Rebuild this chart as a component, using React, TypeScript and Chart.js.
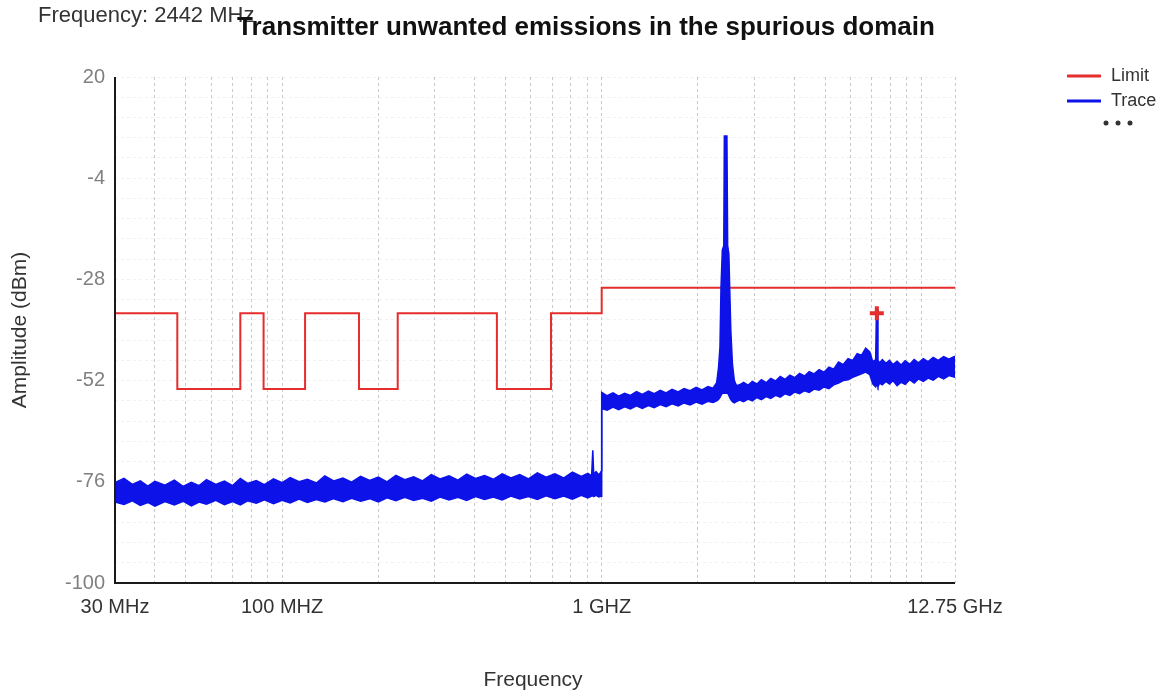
import React, { useEffect, useRef } from "react";
import { Chart, registerables } from "chart.js";

Chart.register(...registerables);

// ---- Limit mask (MHz, dBm) ----
const limitStarts = [30, 47, 74, 87.5, 118, 174, 230, 470, 694, 1000];
const limitEnds = [47, 74, 87.5, 118, 174, 230, 470, 694, 1000, 12750];
const limitLevels = [-36, -54, -36, -54, -36, -54, -36, -54, -36, -30];

// ---- Trace envelope (max / min of the noisy sweep), 30 MHz - 1 GHz ----
const freqsLow = [30, 32, 34, 36, 38, 40, 43, 46, 49, 52, 55, 58, 62, 66, 70, 74, 78, 83, 88, 94, 100, 106, 113, 120, 128, 136, 145, 155, 165, 176, 188, 200, 213, 227, 242, 258, 275, 293, 312, 333, 355, 378, 403, 430, 458, 488, 520, 554, 590, 629, 670, 714, 760, 810, 863, 905, 930, 938, 944, 960, 980, 999];
const upperLow = [-76.2, -75.2, -76.6, -75.8, -77.0, -75.9, -76.8, -75.6, -77.1, -76.1, -76.9, -75.5, -76.6, -75.8, -76.9, -75.2, -76.4, -75.7, -76.7, -75.3, -76.2, -75.0, -76.0, -75.4, -76.3, -74.6, -75.8, -75.1, -76.1, -74.7, -75.7, -74.9, -76.0, -74.5, -75.5, -74.8, -75.8, -74.3, -75.3, -74.6, -75.6, -74.2, -75.2, -74.5, -75.4, -74.1, -75.1, -74.3, -75.3, -73.9, -74.9, -74.1, -75.1, -73.7, -74.7, -74.0, -74.6, -68.5, -74.2, -73.6, -74.4, -73.4];
const lowerLow = [-80.8, -81.4, -80.5, -81.6, -80.9, -81.8, -80.7, -81.5, -80.6, -81.7, -80.8, -81.3, -80.4, -81.4, -80.7, -81.5, -80.5, -81.1, -80.3, -81.2, -80.4, -81.0, -80.1, -80.9, -80.2, -80.8, -80.0, -80.7, -79.9, -80.6, -80.0, -80.8, -79.8, -80.5, -79.7, -80.4, -79.9, -80.6, -79.6, -80.3, -79.7, -80.4, -79.5, -80.2, -79.6, -80.3, -79.4, -80.1, -79.5, -80.2, -79.3, -80.0, -79.4, -80.1, -79.2, -79.8, -79.4, -79.3, -79.5, -79.2, -79.6, -79.4];

// ---- 1 GHz - 2.64 GHz (carrier at 2442 MHz) ----
const freqsMid = [1000, 1040, 1085, 1130, 1180, 1230, 1285, 1340, 1400, 1460, 1525, 1590, 1660, 1735, 1810, 1890, 1975, 2060, 2150, 2230, 2290, 2320, 2345, 2362, 2385, 2410, 2420, 2465, 2478, 2500, 2515, 2535, 2565, 2600, 2640];
const upperMid = [-54.8, -55.6, -54.9, -55.7, -55.0, -55.5, -54.6, -55.3, -54.5, -55.1, -54.3, -54.9, -54.1, -54.7, -53.9, -54.4, -53.6, -54.2, -53.4, -53.8, -52.5, -49, -44, -30, -21, -20, 6, 6, -20, -22, -30, -40, -48, -52, -53.2];
const lowerMid = [-58.6, -59.0, -58.3, -58.9, -58.2, -58.7, -58.0, -58.6, -57.9, -58.4, -57.7, -58.2, -57.5, -58.0, -57.3, -57.8, -57.1, -57.6, -56.9, -57.2, -56.8, -56.5, -56.0, -55.5, -55.0, -55.0, -55.0, -55.0, -55.0, -55.5, -56.0, -56.5, -57.0, -57.3, -57.0];

// ---- 2.7 GHz - 12.75 GHz ----
const freqsHigh = [2700, 2780, 2870, 2960, 3060, 3160, 3270, 3380, 3500, 3620, 3750, 3880, 4020, 4160, 4310, 4460, 4620, 4790, 4960, 5140, 5320, 5510, 5700, 5900, 6100, 6300, 6500, 6700, 6900, 7050, 7200, 7240, 7280, 7320, 7400, 7550, 7750, 7950, 8150, 8400, 8650, 8900, 9200, 9500, 9800, 10150, 10500, 10900, 11300, 11750, 12200, 12750];
const upperHigh = [-53.0, -52.4, -53.1, -52.2, -52.8, -51.8, -52.5, -51.5, -52.1, -51.0, -51.7, -50.7, -51.3, -50.3, -50.9, -49.9, -50.4, -49.4, -50.0, -48.8, -49.3, -47.6, -48.2, -46.8, -47.2, -45.6, -46.0, -44.3, -45.2, -47.5, -47.0, -35.0, -35.0, -47.2, -47.8, -47.0, -47.9, -47.2, -48.2, -47.4, -48.3, -47.3, -48.1, -47.0, -47.8, -46.8, -47.5, -46.5, -47.2, -46.3, -46.9, -46.2];
const lowerHigh = [-56.6, -57.0, -56.4, -56.8, -56.0, -56.5, -55.8, -56.2, -55.5, -55.9, -55.1, -55.5, -54.7, -55.1, -54.4, -54.8, -54.0, -54.3, -53.5, -53.9, -53.0, -52.6, -52.0, -51.8, -51.2, -50.8, -50.4, -50.0, -50.6, -52.8, -53.5, -53.0, -53.0, -53.5, -52.6, -53.0, -52.2, -52.8, -52.0, -53.2, -52.4, -52.9, -51.8, -52.6, -51.6, -52.2, -51.4, -51.9, -51.0, -51.6, -50.8, -51.2];

const traceFreqs = [...freqsLow, ...freqsMid, ...freqsHigh];
const traceUpper = [...upperLow, ...upperMid, ...upperHigh];
const traceLower = [...lowerLow, ...lowerMid, ...lowerHigh];

// ---- Marker ----
const markerFreqs = [7260];
const markerLevels = [-36];

// ---- Axes ----
const xGridFreqs = [30, 40, 50, 60, 70, 80, 90, 100, 200, 300, 400, 500, 600, 700, 800, 900, 1000, 2000, 3000, 4000, 5000, 6000, 7000, 8000, 9000, 10000, 12750];
const xLabelFreqs = [30, 100, 1000, 12750];
const xLabelTexts = ["30 MHz", "100 MHZ", "1 GHZ", "12.75 GHz"];
const yLabelValues = [20, -4, -28, -52, -76, -100];
const yMin = -100;
const yMax = 20;
const yGridStep = 4.8;

const titleText = "Transmitter unwanted emissions in the spurious domain";
const markerInfoText = "Frequency: 2442 MHz";
const xTitle = "Frequency";
const yTitle = "Amplitude (dBm)";
const legendLabels = ["Limit", "Trace"];

const RED = "rgb(230,45,45)";
const BLUE = "rgb(12,18,232)";
const FONT = "'Liberation Sans', Arial, sans-serif";

export default function App() {
  const ref = useRef<HTMLCanvasElement | null>(null);

  useEffect(() => {
    const canvas = ref.current;
    if (!canvas) return;

    const limitPts: { x: number; y: number }[] = [];
    limitStarts.forEach((s, i) => {
      limitPts.push({ x: s, y: limitLevels[i] });
      limitPts.push({ x: limitEnds[i], y: limitLevels[i] });
    });
    const lowerPts = traceFreqs.map((f, i) => ({ x: f, y: traceLower[i] }));
    const upperPts = traceFreqs.map((f, i) => ({ x: f, y: traceUpper[i] }));
    const markerPts = markerFreqs.map((f, i) => ({ x: f, y: markerLevels[i] }));

    const overlay = {
      id: "overlay",
      afterDraw(chart: any) {
        const ctx = chart.ctx as CanvasRenderingContext2D;
        const { left, right, top, bottom } = chart.chartArea;
        ctx.save();
        // axis lines
        ctx.strokeStyle = "#1a1a1a";
        ctx.lineWidth = 2;
        ctx.setLineDash([]);
        ctx.beginPath();
        ctx.moveTo(left, top);
        ctx.lineTo(left, bottom);
        ctx.lineTo(right, bottom);
        ctx.stroke();

        // marker info text
        ctx.fillStyle = "#333";
        ctx.textBaseline = "middle";
        ctx.textAlign = "left";
        ctx.font = `22px ${FONT}`;
        ctx.fillText(markerInfoText, 38, 16);

        // title
        ctx.fillStyle = "#111";
        ctx.textAlign = "center";
        ctx.font = `bold 26px ${FONT}`;
        ctx.fillText(titleText, 586, 28);

        // axis titles
        ctx.fillStyle = "#333";
        ctx.font = `21px ${FONT}`;
        ctx.fillText(xTitle, 533, 680);
        ctx.save();
        ctx.translate(20, 330);
        ctx.rotate(-Math.PI / 2);
        ctx.fillText(yTitle, 0, 0);
        ctx.restore();

        // legend
        const colors = [RED, BLUE];
        const rows = [76, 101];
        ctx.lineWidth = 3;
        ctx.font = `18px ${FONT}`;
        ctx.textAlign = "left";
        legendLabels.forEach((lab, i) => {
          ctx.strokeStyle = colors[i];
          ctx.beginPath();
          ctx.moveTo(1067, rows[i]);
          ctx.lineTo(1101, rows[i]);
          ctx.stroke();
          ctx.fillStyle = "#333";
          ctx.fillText(lab, 1111, rows[i]);
        });
        ctx.fillStyle = "#333";
        [1106, 1118, 1130].forEach((cx) => {
          ctx.beginPath();
          ctx.arc(cx, 123, 2.5, 0, Math.PI * 2);
          ctx.fill();
        });
        ctx.restore();
      },
    };

    const chart = new Chart(canvas, {
      type: "line",
      data: {
        datasets: [
          {
            label: "Limit",
            data: limitPts,
            borderColor: RED,
            borderWidth: 2,
            pointRadius: 0,
            fill: false,
            tension: 0,
            order: 5,
          } as any,
          {
            label: "TraceLower",
            data: lowerPts,
            borderColor: BLUE,
            borderWidth: 1.5,
            pointRadius: 0,
            fill: false,
            tension: 0,
            order: 3,
          } as any,
          {
            label: "Trace",
            data: upperPts,
            borderColor: BLUE,
            backgroundColor: BLUE,
            borderWidth: 1.5,
            pointRadius: 0,
            fill: "-1",
            tension: 0,
            order: 2,
          } as any,
          {
            label: "Marker",
            data: markerPts,
            showLine: false,
            pointStyle: "cross",
            pointRadius: 7,
            borderColor: RED,
            backgroundColor: RED,
            pointBorderWidth: 4,
            borderWidth: 4,
            order: 0,
          } as any,
        ],
      },
      options: {
        animation: false,
        responsive: false,
        devicePixelRatio: 1,
        layout: { padding: { left: 0, right: 221, top: 77, bottom: 0 } },
        plugins: {
          legend: { display: false },
          title: { display: false },
          tooltip: { enabled: false },
        },
        scales: {
          x: {
            type: "logarithmic",
            min: 30,
            max: 12750,
            afterBuildTicks: (scale: any) => {
              scale.ticks = xGridFreqs.map((v) => ({ value: v }));
            },
            afterFit: (scale: any) => {
              scale.height = 114;
            },
            ticks: {
              autoSkip: false,
              maxRotation: 0,
              minRotation: 0,
              padding: 12,
              color: "#333",
              font: { family: FONT, size: 20 },
              callback: (value: any) => {
                const idx = xLabelFreqs.findIndex((f) => Math.abs(f - Number(value)) < 1e-6);
                return idx >= 0 ? xLabelTexts[idx] : "";
              },
            },
            grid: {
              color: "rgba(150,150,150,0.5)",
              lineWidth: 1,
              drawTicks: false,
            },
            border: { display: false, dash: [3, 3] },
          },
          y: {
            type: "linear",
            min: yMin,
            max: yMax,
            afterBuildTicks: (scale: any) => {
              const t: { value: number }[] = [];
              const n = Math.round((yMax - yMin) / yGridStep);
              for (let i = 0; i <= n; i++) {
                t.push({ value: Math.round((yMax - i * yGridStep) * 10) / 10 });
              }
              scale.ticks = t;
            },
            afterFit: (scale: any) => {
              scale.width = 115;
            },
            ticks: {
              autoSkip: false,
              padding: 10,
              color: "#808080",
              font: { family: FONT, size: 20 },
              callback: (value: any) => {
                const v = Number(value);
                const hit = yLabelValues.find((l) => Math.abs(l - v) < 0.01);
                return hit !== undefined ? String(hit) : "";
              },
            },
            grid: {
              color: "rgba(180,180,180,0.18)",
              lineWidth: 1,
              drawTicks: false,
            },
            border: { display: false, dash: [3, 3] },
          },
        },
      } as any,
      plugins: [overlay],
    });

    return () => {
      chart.destroy();
    };
  }, []);

  return (
    <div style={{ position: "absolute", left: 0, top: 0, width: 1176, height: 697, background: "#fff" }}>
      <canvas ref={ref} width={1176} height={697} style={{ display: "block" }} />
    </div>
  );
}
